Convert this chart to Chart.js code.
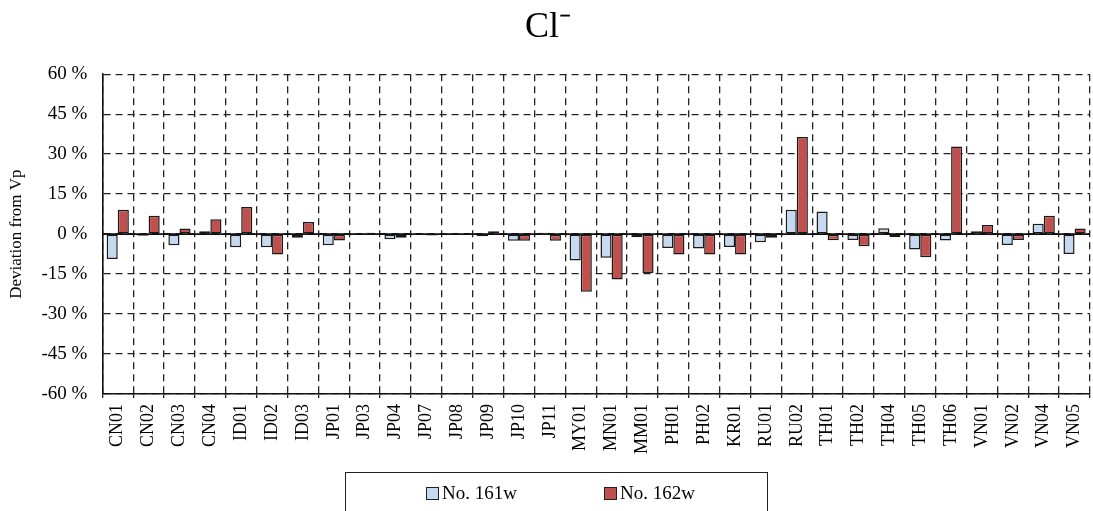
<!DOCTYPE html>
<html>
<head>
<meta charset="utf-8">
<script src="https://cdn.jsdelivr.net/npm/chart.js@4/dist/chart.umd.min.js"></script>
<style>
  body { margin: 0; background: #fff; }
  #wrap { position: relative; width: 1093px; height: 511px; }
  #legend {
    position: absolute; left: 345px; top: 472px; width: 423px; height: 50px;
    border: 1.5px solid #222; box-sizing: border-box;
    font-family: "Liberation Serif", serif; font-size: 19px; color: #000;
  }
  .item { position: absolute; top: 9px; display: flex; align-items: center; }
  .box { width: 11px; height: 11px; border: 1.5px solid #222; margin-right: 3px; }
</style>
</head>
<body>
<div id="wrap">
  <canvas id="chart" width="1093" height="511"></canvas>
  <div id="legend"></div>
</div>
<script>
const categories = ["CN01", "CN02", "CN03", "CN04", "ID01", "ID02", "ID03", "JP01", "JP03", "JP04",
  "JP07", "JP08", "JP09", "JP10", "JP11", "MY01", "MN01", "MM01", "PH01", "PH02", "KR01", "RU01",
  "RU02", "TH01", "TH02", "TH04", "TH05", "TH06", "VN01", "VN02", "VN04", "VN05"];

const no161w = [-9.3, -0.6, -4.2, 1.1, -4.9, -4.9, -1.4, -4.2, 0.3, -1.9,
  -0.3, 0, -0.8, -2.5, 0.5, -9.9, -8.9, -1.2, -5.2, -5.4, -4.8, -3.1,
  9.1, 8.5, -2.2, 2.2, -5.8, -2.4, 1.1, -4.1, 3.9, -7.5];

const no162w = [9.1, 6.9, 2.1, 5.6, 10.2, -7.7, 4.5, -2.4, 0.5, -1.4,
  -0.5, 0, 1.1, -2.5, -2.5, -21.6, -17.0, -14.6, -7.7, -7.7, -7.7, -1.4,
  36.4, -2.3, -4.6, -1.2, -8.7, 32.9, 3.4, -2.2, 6.9, 2.1];

const yTicks = [-60, -45, -30, -15, 0, 15, 30, 45, 60];

const serif = "'Liberation Serif', 'Times New Roman', serif";

// solid line at 0 %
const zeroLine = {
  id: "zeroLine",
  afterDatasetsDraw(chart) {
    const y = chart.scales.y.getPixelForValue(0);
    const ctx = chart.ctx;
    ctx.save();
    ctx.strokeStyle = "#111";
    ctx.lineWidth = 1.6;
    ctx.beginPath();
    ctx.moveTo(chart.chartArea.left, y);
    ctx.lineTo(chart.chartArea.right, y);
    ctx.stroke();
    ctx.restore();
  }
};

const chart = new Chart(document.getElementById("chart"), {
  type: "bar",
  data: {
    labels: categories,
    datasets: [
      { label: "No. 161w", data: no161w, backgroundColor: "#c6d9f1", borderColor: "#1a1a1a", borderWidth: 1.5,
        borderSkipped: false, categoryPercentage: 0.72, barPercentage: 1.0 },
      { label: "No. 162w", data: no162w, backgroundColor: "#c0504d", borderColor: "#1a1a1a", borderWidth: 1.5,
        borderSkipped: false, categoryPercentage: 0.72, barPercentage: 1.0 }
    ]
  },
  options: {
    responsive: false,
    animation: false,
    layout: { padding: { left: 6, right: 3, top: 2, bottom: 51 } },
    plugins: {
      legend: { display: false },
      tooltip: { enabled: false },
      title: {
        display: true,
        text: "Cl\u207B",
        color: "#000",
        font: { family: serif, size: 36, weight: "normal" },
        padding: { top: 4, bottom: 25 }
      }
    },
    scales: {
      x: {
        afterFit(scale) { scale.paddingRight = 0; },
        grid: { color: "#222", lineWidth: 1.3, tickLength: 4, offset: true, tickColor: "#222" },
        border: { color: "#111", width: 1.6, dash: [7, 5] },
        ticks: {
          color: "#000", font: { family: serif, size: 18 },
          minRotation: 90, maxRotation: 90, padding: 6, autoSkip: false
        }
      },
      y: {
        min: -60, max: 60,
        afterBuildTicks(scale) { scale.ticks = yTicks.map(v => ({ value: v })); },
        grid: { color: "#222", lineWidth: 1.3, drawTicks: false },
        border: { color: "#111", width: 1.6, dash: [7, 5] },
        ticks: {
          color: "#000", font: { family: serif, size: 19 }, padding: 15,
          callback: v => v + " %"
        },
        title: {
          display: true, text: "Deviation from Vp", color: "#000",
          font: { family: serif, size: 17 }, padding: { top: 0, bottom: 0 }
        }
      }
    }
  },
  plugins: [zeroLine]
});

// legend built from the datasets
const legend = document.getElementById("legend");
const lefts = [80, 258];
chart.data.datasets.forEach((ds, i) => {
  const item = document.createElement("div");
  item.className = "item";
  item.style.left = lefts[i] + "px";
  item.innerHTML = `<div class="box" style="background:${ds.backgroundColor}"></div><span>${ds.label}</span>`;
  legend.appendChild(item);
});
</script>
</body>
</html>
